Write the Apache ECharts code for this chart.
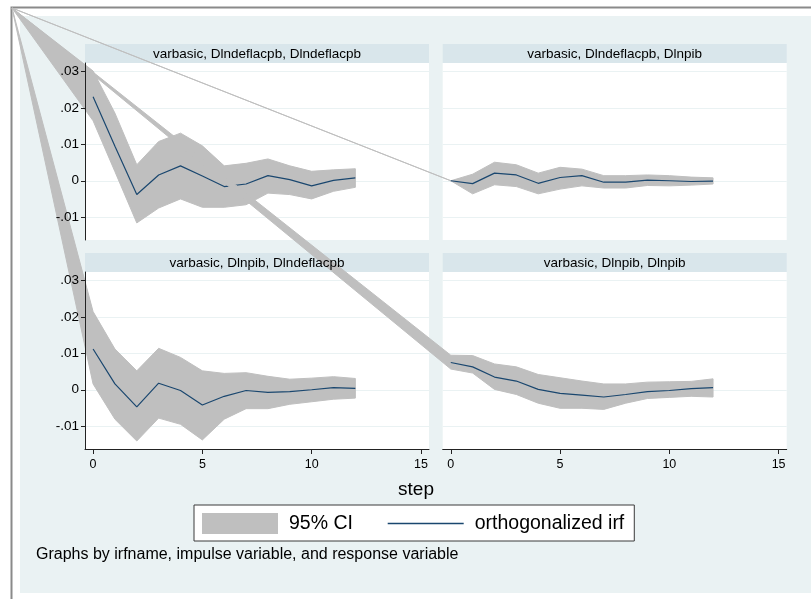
<!DOCTYPE html>
<html>
<head>
<meta charset="utf-8">
<script src="https://cdn.jsdelivr.net/npm/echarts@6/dist/echarts.min.js"></script>
<style>
html,body{margin:0;padding:0;background:#ffffff;}
#c{width:811px;height:599px;}
</style>
</head>
<body>
<div id="c"></div>
<script>
// ---------------- data ----------------
const steps = [0, 1, 2, 3, 4, 5, 6, 7, 8, 9, 10, 11, 12];

const panelTitles = [
  'varbasic, Dlndeflacpb, Dlndeflacpb',
  'varbasic, Dlndeflacpb, Dlnpib',
  'varbasic, Dlnpib, Dlndeflacpb',
  'varbasic, Dlnpib, Dlnpib'
];

// varbasic, Dlndeflacpb -> Dlndeflacpb
const irf11 = [0.0231, 0.0095, -0.0038, 0.0016, 0.0041, 0.0013, -0.0016, -0.0009, 0.0014, 0.0003, -0.0014, 0.0001, 0.0008];
const up11  = [0.0302, 0.0186, 0.0044, 0.0108, 0.0131, 0.0096, 0.0041, 0.0048, 0.0060, 0.0041, 0.0026, 0.0030, 0.0033];
const lo11  = [0.0165, 0.0025, -0.0116, -0.0075, -0.0050, -0.0073, -0.0073, -0.0066, -0.0034, -0.0038, -0.0050, -0.0029, -0.0018];

// varbasic, Dlndeflacpb -> Dlnpib
const irf12 = [0, -0.0008, 0.0021, 0.0016, -0.0007, 0.0009, 0.0014, -0.0004, -0.0004, 0.0002, 0.0000, -0.0002, -0.0001];
const up12  = [0, 0.0018, 0.0051, 0.0044, 0.0021, 0.0037, 0.0032, 0.0014, 0.0014, 0.0016, 0.0014, 0.0010, 0.0008];
const lo12  = [0, -0.0036, -0.0011, -0.0016, -0.0036, -0.0023, -0.0014, -0.0020, -0.0020, -0.0013, -0.0014, -0.0012, -0.0009];

// varbasic, Dlnpib -> Dlndeflacpb
const irf21 = [0.0112, 0.0016, -0.0047, 0.0018, -0.0002, -0.0042, -0.0018, -0.0002, -0.0007, -0.0005, 0.0000, 0.0006, 0.0004];
const up21  = [0.0215, 0.0112, 0.0052, 0.0114, 0.0089, 0.0052, 0.0045, 0.0047, 0.0037, 0.0029, 0.0032, 0.0036, 0.0031];
const lo21  = [0.0016, -0.0081, -0.0141, -0.0078, -0.0095, -0.0138, -0.0081, -0.0052, -0.0052, -0.0040, -0.0033, -0.0026, -0.0023];

// varbasic, Dlnpib -> Dlnpib
const irf22 = [0.0075, 0.0063, 0.0035, 0.0024, 0.0001, -0.0010, -0.0015, -0.0020, -0.0013, -0.0005, -0.0002, 0.0003, 0.0006];
const up22  = [0.0095, 0.0094, 0.0071, 0.0063, 0.0042, 0.0033, 0.0024, 0.0016, 0.0016, 0.0021, 0.0022, 0.0023, 0.0030];
const lo22  = [0.0057, 0.0046, 0.0001, -0.0013, -0.0037, -0.0051, -0.0051, -0.0054, -0.0037, -0.0024, -0.0021, -0.0018, -0.0020];

const xTicks = [0, 5, 10, 15];
const yTicks = [-0.01, 0, 0.01, 0.02, 0.03];
const yTickLabels = ['-.01', '0', '.01', '.02', '.03'];

const xTitle = 'step';
const ciName = '95% CI';
const irfName = 'orthogonalized irf';
const note = 'Graphs by irfname, impulse variable, and response variable';

// ---------------- layout / style ----------------
const FONT = '"Liberation Sans", Arial, Helvetica, sans-serif';
const X_MIN = -0.37, X_MAX = 15.37;
const Y_MIN = -0.0163, Y_MAX = 0.0324;
const CI_COLOR = '#BFBFBF';
const IRF_COLOR = '#1A476F';
const REGION_COLOR = '#EAF2F3';
const STRIP_COLOR = '#D9E6EB';
const FRAME = { x: 12, y: 8 };
const STRIP_H = 19;

const PANELS = [
  { left: 85,    top: 63,  width: 344, height: 177, showY: true,  showX: false, irf: irf11, up: up11, lo: lo11 },
  { left: 442.7, top: 63,  width: 344, height: 177, showY: false, showX: false, irf: irf12, up: up12, lo: lo12 },
  { left: 85,    top: 272, width: 344, height: 177, showY: true,  showX: true,  irf: irf21, up: up21, lo: lo21 },
  { left: 442.7, top: 272, width: 344, height: 177, showY: false, showX: true,  irf: irf22, up: up22, lo: lo22 }
];

const chart = echarts.init(document.getElementById('c'), null, { renderer: 'canvas', width: 811, height: 599 });

const grids = [], xAxes = [], yAxes = [], series = [];
const graphics = [
  // outer frame
  { type: 'rect', z: 0, silent: true,
    shape: { x: FRAME.x - 0.5, y: FRAME.y - 0.5, width: 900, height: 700 },
    style: { fill: '#FFFFFF', stroke: '#8A8A8A', lineWidth: 2 } },
  // graph region
  { type: 'rect', z: 0, z2: 1, silent: true,
    shape: { x: 20, y: 16, width: 791, height: 577 },
    style: { fill: REGION_COLOR } },
  // common x title
  { type: 'text', z: 100, silent: true, x: 416, y: 490,
    style: { text: xTitle, fontSize: 19, fontFamily: FONT, fill: '#000', align: 'center', verticalAlign: 'middle' } },
  // note
  { type: 'text', z: 100, silent: true, x: 36, y: 555,
    style: { text: note, fontSize: 16, fontFamily: FONT, fill: '#000', align: 'left', verticalAlign: 'middle' } }
];

function yLabel(v) {
  const k = yTicks.findIndex(t => Math.abs(t - v) < 1e-9);
  return k >= 0 ? yTickLabels[k] : '';
}

PANELS.forEach((p, i) => {
  const base = 2 + 10 * i;
  grids.push({ left: p.left, top: p.top, width: p.width, height: p.height,
    show: true, backgroundColor: '#FFFFFF', borderWidth: 0, z: base });

  xAxes.push({
    type: 'value', gridIndex: i, min: X_MIN, max: X_MAX, show: p.showX, z: 100,
    position: 'bottom',
    axisLine: { show: true, onZero: false, lineStyle: { color: '#222', width: 1 } },
    axisTick: { show: true, length: 5, customValues: xTicks, lineStyle: { color: '#222', width: 1 } },
    axisLabel: { show: true, customValues: xTicks, color: '#000', fontSize: 12.5, fontFamily: FONT, margin: 9 },
    splitLine: { show: false }
  });

  // gridlines (below the plots)
  yAxes.push({
    type: 'value', gridIndex: i, min: Y_MIN, max: Y_MAX, z: base + 2, position: 'left',
    axisLine: { show: false },
    axisTick: { show: false, customValues: yTicks },
    axisLabel: { show: false, customValues: yTicks },
    splitLine: { show: true, lineStyle: { color: REGION_COLOR, width: 1 } }
  });
  // visible axis (above the plots)
  yAxes.push({
    type: 'value', gridIndex: i, min: Y_MIN, max: Y_MAX, z: 100, position: 'left', show: p.showY,
    axisLine: { show: true, onZero: false, lineStyle: { color: '#222', width: 1 } },
    axisTick: { show: true, length: 4, customValues: yTicks, lineStyle: { color: '#222', width: 1 } },
    axisLabel: { show: true, customValues: yTicks, formatter: yLabel, color: '#000', fontSize: 13.5, fontFamily: FONT, margin: 6 },
    splitLine: { show: false }
  });

  const up = p.up, lo = p.lo;
  series.push({
    type: 'custom', name: ciName, xAxisIndex: i, yAxisIndex: 2 * i + 1, z: base + 3,
    clip: false, silent: true, itemStyle: { color: CI_COLOR },
    data: [[0, 0]],
    renderItem: function (params, api) {
      const pts = [[FRAME.x, FRAME.y]];
      for (let k = 0; k < steps.length; k++) pts.push(api.coord([steps[k], up[k]]));
      for (let k = steps.length - 1; k >= 0; k--) pts.push(api.coord([steps[k], lo[k]]));
      return { type: 'polygon', shape: { points: pts },
        style: { fill: CI_COLOR, stroke: CI_COLOR, lineWidth: 1 } };
    }
  });
  series.push({
    type: 'line', name: irfName, xAxisIndex: i, yAxisIndex: 2 * i + 1, z: base + 4,
    symbol: 'none', silent: true, animation: false,
    lineStyle: { color: IRF_COLOR, width: 1.2 }, itemStyle: { color: IRF_COLOR },
    data: steps.map((s, k) => [s, p.irf[k]])
  });

  // subtitle strip
  graphics.push({ type: 'rect', z: base + 1, silent: true,
    shape: { x: p.left, y: p.top - STRIP_H, width: p.width, height: STRIP_H },
    style: { fill: STRIP_COLOR } });
  graphics.push({ type: 'text', z: 100, silent: true,
    x: p.left + p.width / 2, y: p.top - STRIP_H / 2 + 0.5,
    style: { text: panelTitles[i], fontSize: 13.5, fontFamily: FONT, fill: '#000', align: 'center', verticalAlign: 'middle' } });
});

chart.setOption({
  animation: false,
  backgroundColor: '#FFFFFF',
  textStyle: { fontFamily: FONT },
  grid: grids,
  xAxis: xAxes,
  yAxis: yAxes,
  graphic: { elements: graphics },
  legend: {
    left: 194, top: 505, orient: 'horizontal', selectedMode: false, z: 100,
    data: [
      { name: ciName, icon: 'rect' },
      { name: irfName, itemStyle: { opacity: 0 }, lineStyle: { color: IRF_COLOR, width: 1.5, opacity: 1 } }
    ],
    itemWidth: 76, itemHeight: 21, itemGap: 34,
    padding: [8, 10, 7, 8],
    backgroundColor: '#FFFFFF', borderColor: '#3A3A3A', borderWidth: 1, borderRadius: 0,
    textStyle: { fontSize: 19.5, color: '#000', fontFamily: FONT, padding: [0, 0, 0, 6] }
  },
  series: series
});
</script>
</body>
</html>
